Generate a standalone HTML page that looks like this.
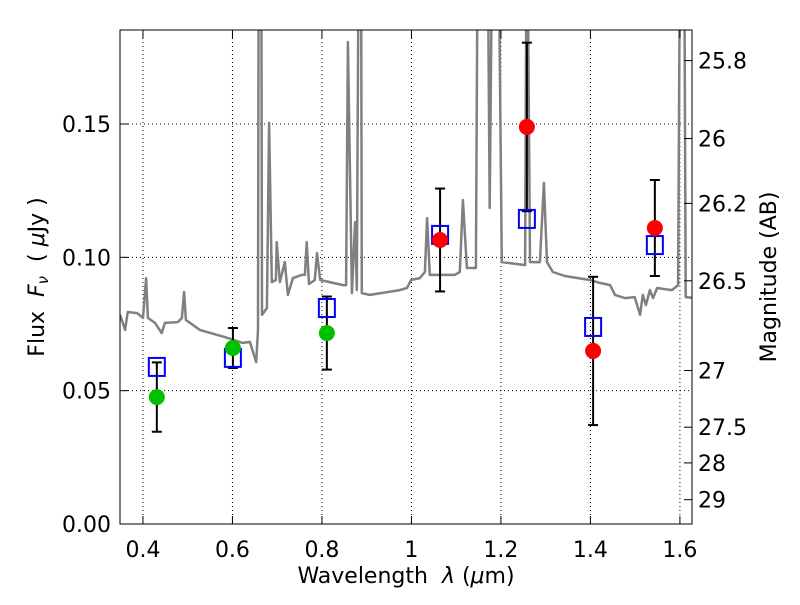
<!DOCTYPE html>
<html><head><meta charset="utf-8"><style>
body{margin:0;background:#fff}
svg text{font-family:"DejaVu Sans","Liberation Sans",sans-serif;fill:#000}
</style></head><body>
<svg id="chart" width="800" height="600" xmlns="http://www.w3.org/2000/svg">
<rect width="800" height="600" fill="#fff"/>
<defs><clipPath id="clip"><rect x="120" y="30" width="572" height="494"/></clipPath></defs>
<g id="grid"></g>
<g id="spec" clip-path="url(#clip)"></g>
<g id="marks"></g>
<rect x="120" y="30" width="572" height="494" fill="none" stroke="#000" stroke-width="1"/>
<g id="axes"></g>
<text x="406" y="583" text-anchor="middle" font-size="22" xml:space="preserve">Wavelength  <tspan font-style="italic">λ</tspan> (<tspan font-style="italic">μ</tspan>m)</text>
<text transform="translate(44,277) rotate(-90)" text-anchor="middle" font-size="22" xml:space="preserve">Flux  <tspan font-style="italic">F</tspan><tspan font-size="15" dy="4" font-style="italic">ν</tspan><tspan dy="-4">  ( <tspan font-style="italic">μ</tspan>Jy )</tspan></text>
<text transform="translate(776,277) rotate(-90)" text-anchor="middle" font-size="22">Magnitude (AB)</text>
</svg>
<script>
const specWave=[0.349,0.360,0.366,0.387,0.400,0.407,0.411,0.427,0.442,0.449,0.478,0.487,0.492,0.496,0.527,0.583,0.623,0.639,0.646,0.653,0.657,0.659,0.664,0.666,0.677,0.682,0.688,0.697,0.699,0.706,0.717,0.724,0.735,0.755,0.762,0.766,0.771,0.784,0.789,0.796,0.847,0.854,0.858,0.867,0.874,0.878,0.883,0.887,0.889,0.907,0.974,0.990,0.999,1.019,1.030,1.035,1.041,1.097,1.108,1.115,1.124,1.144,1.149,1.169,1.175,1.182,1.193,1.202,1.254,1.258,1.265,1.287,1.296,1.303,1.316,1.343,1.399,1.421,1.444,1.455,1.477,1.499,1.511,1.517,1.524,1.533,1.540,1.549,1.582,1.596,1.601,1.609,1.613,1.633];
const specFlux=[0.0784,0.0728,0.0795,0.0791,0.0773,0.0922,0.0773,0.0754,0.0716,0.0754,0.0757,0.0773,0.0870,0.0765,0.0728,0.0701,0.0679,0.0683,0.0645,0.0607,0.0728,0.25,0.25,0.0784,0.081,0.1504,0.0907,0.0915,0.1057,0.0907,0.0982,0.0859,0.0922,0.0934,0.0934,0.1057,0.09,0.0915,0.1016,0.0915,0.0896,0.0896,0.1807,0.0866,0.1132,0.0877,0.25,0.25,0.0866,0.0859,0.0877,0.0885,0.0915,0.0922,0.0945,0.1147,0.0934,0.0934,0.0945,0.1215,0.096,0.096,0.25,0.25,0.1185,0.25,0.25,0.0982,0.0971,0.25,0.0982,0.0982,0.1279,0.0982,0.0945,0.093,0.0915,0.0904,0.0896,0.0859,0.0847,0.0851,0.0784,0.0859,0.0821,0.0877,0.0847,0.0885,0.0877,0.0896,0.25,0.25,0.0851,0.0847];
const greenWave=[0.431,0.601,0.811];
const greenFlux=[0.0476,0.066,0.0716];
const greenErr=[0.013,0.0075,0.0137];
const redWave=[1.064,1.258,1.406,1.544];
const redFlux=[0.1065,0.1489,0.0649,0.111];
const redErr=[0.0193,0.0316,0.0278,0.018];
const modelWave=[0.431,0.601,0.811,1.064,1.258,1.406,1.544];
const modelFlux=[0.0589,0.0623,0.081,0.1084,0.1144,0.0739,0.1046];
const xTicks=[0.4,0.6,0.8,1.0,1.2,1.4,1.6];
const xTickLabels=["0.4","0.6","0.8","1","1.2","1.4","1.6"];
const yTicks=[0,0.05,0.10,0.15];
const yTickLabels=["0.00","0.05","0.10","0.15"];
const magTicks=[25.8,26,26.2,26.5,27,27.5,28,29];
const magTickLabels=["25.8","26","26.2","26.5","27","27.5","28","29"];

const NS="http://www.w3.org/2000/svg";
const X0=120,X1=692,Y0=524,Y1=30,xmin=0.3487,xmax=1.6270,ymin=0,ymax=0.18525;
const sx=v=>X0+(v-xmin)/(xmax-xmin)*(X1-X0);
const sy=v=>Y0-(v-ymin)/(ymax-ymin)*(Y0-Y1);
const magToFlux=m=>Math.pow(10,(23.9-m)/2.5);
function el(tag,attrs,parent){const e=document.createElementNS(NS,tag);for(const k in attrs)e.setAttribute(k,attrs[k]);parent.appendChild(e);return e;}
const grid=document.getElementById('grid'),axes=document.getElementById('axes'),spec=document.getElementById('spec'),marks=document.getElementById('marks');

xTicks.forEach((t,i)=>{const x=sx(t);
  const g=el('line',{x1:x,x2:x,y1:Y1,y2:Y0,stroke:'#000','stroke-dasharray':'1,3','stroke-width':1},grid);
  
  
  el('line',{x1:x,x2:x,y1:Y0,y2:Y0-8,stroke:'#000'},axes);
  el('line',{x1:x,x2:x,y1:Y1,y2:Y1+8,stroke:'#000'},axes);
  const tx=el('text',{x:x,y:557,'text-anchor':'middle','font-size':22},axes);tx.textContent=xTickLabels[i];
  
  
});
yTicks.forEach((t,i)=>{const y=sy(t);
  if(t>0){const g=el('line',{x1:X0,x2:X1,y1:y,y2:y,stroke:'#000','stroke-dasharray':'1,3','stroke-width':1},grid);
  
  }
  el('line',{x1:X0,x2:X0+8,y1:y,y2:y,stroke:'#000'},axes);
  const tx=el('text',{x:111,y:y+8,'text-anchor':'end','font-size':22},axes);tx.textContent=yTickLabels[i];
  
  
});
magTicks.forEach((m,i)=>{const y=sy(magToFlux(m));
  el('line',{x1:X1,x2:X1-8,y1:y,y2:y,stroke:'#000'},axes);
  const tx=el('text',{x:698,y:y+8,'font-size':22},axes);tx.textContent=magTickLabels[i];
  
  
});
const pts=specWave.map((w,i)=>sx(w).toFixed(1)+','+sy(specFlux[i]).toFixed(1)).join(' ');
const pl=el('polyline',{points:pts,fill:'none',stroke:'#808080','stroke-width':2.5,'stroke-linejoin':'round'},spec);



function errbar(w,f,e){const x=sx(w);
  el('line',{x1:x,x2:x,y1:sy(f-e),y2:sy(f+e),stroke:'#000','stroke-width':2},marks);
  el('line',{x1:x-5,x2:x+5,y1:sy(f-e),y2:sy(f-e),stroke:'#000','stroke-width':2},marks);
  el('line',{x1:x-5,x2:x+5,y1:sy(f+e),y2:sy(f+e),stroke:'#000','stroke-width':2},marks);}
greenWave.forEach((w,i)=>errbar(w,greenFlux[i],greenErr[i]));
redWave.forEach((w,i)=>errbar(w,redFlux[i],redErr[i]));
modelWave.forEach((w,i)=>{const s=el('rect',{x:sx(w)-8,y:sy(modelFlux[i])-9,width:16,height:18,fill:'none',stroke:'#0000ff','stroke-width':2},marks);
  
  });
greenWave.forEach((w,i)=>{const c=el('circle',{cx:sx(w),cy:sy(greenFlux[i]),r:8,fill:'#00c000'},marks);
  
  });
redWave.forEach((w,i)=>{const c=el('circle',{cx:sx(w),cy:sy(redFlux[i]),r:8,fill:'#ff0000'},marks);
  
  });
</script>
</body></html>
